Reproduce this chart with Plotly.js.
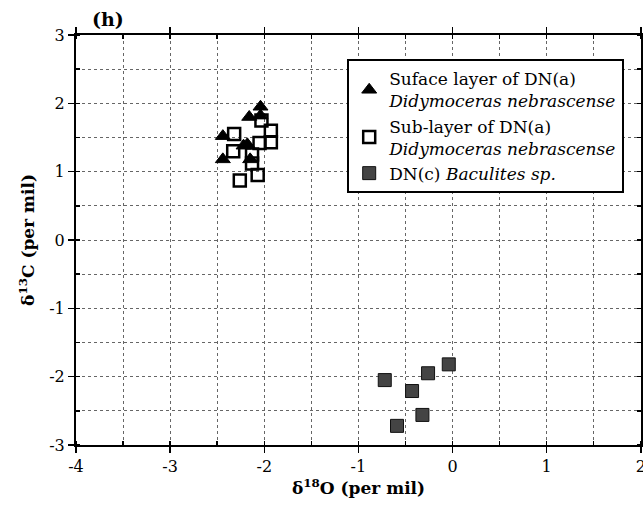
<!DOCTYPE html>
<html>
<head>
<meta charset="utf-8">
<script src="https://cdn.plot.ly/plotly-3.0.1.min.js"></script>
<style>html,body{margin:0;padding:0;background:#fff;}#chart{width:643px;height:513px;}</style>
</head>
<body>
<div id="chart"></div>
<script>
// Surface layer of DN(a) Didymoceras nebrascense
const surfX = [-2.44, -2.44, -2.22, -2.16, -2.04, -2.04, -2.15, -2.18];
const surfY = [1.52, 1.18, 1.38, 1.80, 1.95, 1.82, 1.18, 1.40];
// Sub-layer of DN(a) Didymoceras nebrascense
const subX = [-2.32, -2.33, -2.03, -1.93, -1.93, -2.05, -2.13, -2.13, -2.07, -2.26];
const subY = [1.55, 1.30, 1.75, 1.60, 1.43, 1.42, 1.25, 1.12, 0.95, 0.87];
// DN(c) Baculites sp.
const bacX = [-0.72, -0.43, -0.26, -0.04, -0.32, -0.59];
const bacY = [-2.05, -2.21, -1.95, -1.82, -2.56, -2.72];

const names = [
  'Suface layer of DN(a)<br><i>Didymoceras nebrascense</i>',
  'Sub-layer of DN(a)<br><i>Didymoceras nebrascense</i>',
  'DN(c) <i>Baculites sp.</i>'
];
const xTickVals = [-4, -3, -2, -1, 0, 1, 2];
const yTickVals = [-3, -2, -1, 0, 1, 2, 3];

const font = 'DejaVu Serif, Times New Roman, Times, serif';

const traces = [
  {x: surfX, y: surfY, name: names[0], type: 'scatter', mode: 'markers',
   marker: {symbol: 'triangle-up', size: 13, color: '#000', line: {color: '#000', width: 1}}},
  {x: subX, y: subY, name: names[1], type: 'scatter', mode: 'markers',
   marker: {symbol: 'square-open', size: 12, color: '#000', line: {color: '#000', width: 2.5}}},
  {x: bacX, y: bacY, name: names[2], type: 'scatter', mode: 'markers',
   marker: {symbol: 'square', size: 13, color: '#444', line: {color: '#111', width: 1}}}
];

const axisCommon = {
  showline: true, linecolor: '#000', linewidth: 2, mirror: 'ticks',
  ticks: 'outside', ticklen: 6, tickwidth: 1.5, tickcolor: '#000',
  showgrid: true, gridcolor: '#666', griddash: 'dot', gridwidth: 1,
  zeroline: false, ticklabeloverflow: 'allow',
  minor: {dtick: 0.5, ticks: 'inside', ticklen: 4, tickcolor: '#000', showgrid: true, gridcolor: '#666', griddash: 'dot', gridwidth: 1},
  tickfont: {family: font, size: 16, color: '#000'}
};

const layout = {
  width: 643, height: 513,
  margin: {l: 76, r: 2, t: 35, b: 68},
  paper_bgcolor: '#fff', plot_bgcolor: '#fff',
  font: {family: font, color: '#000', size: 17},
  showlegend: true,
  xaxis: Object.assign({}, axisCommon, {
    range: [-4, 2.002], tickvals: xTickVals, ticktext: xTickVals.map(String),
    title: {text: '<b>δ<sup>18</sup>O (per mil)</b>', font: {family: font, size: 17, color: '#000'}, standoff: 4}
  }),
  yaxis: Object.assign({}, axisCommon, {
    range: [-3, 3], tickvals: yTickVals, ticktext: yTickVals.map(String),
    title: {text: '<b>δ<sup>13</sup>C (per mil)</b>', font: {family: font, size: 17, color: '#000'}, standoff: 10}
  }),
  legend: {
    x: 0.48, y: 0.941, xanchor: 'left', yanchor: 'top',
    bgcolor: '#fff', bordercolor: '#000', borderwidth: 2,
    font: {family: font, size: 17, color: '#000'},
    tracegroupgap: 6, itemwidth: 30
  },
  annotations: [
    {text: '<b>(h)</b>', xref: 'paper', yref: 'paper', x: 0.025, y: 1.0, xanchor: 'left', yanchor: 'bottom',
     showarrow: false, font: {family: font, size: 19, color: '#000'}, yshift: 3}
  ]
};

Plotly.newPlot('chart', traces, layout, {displayModeBar: false, staticPlot: true});
</script>
</body>
</html>
